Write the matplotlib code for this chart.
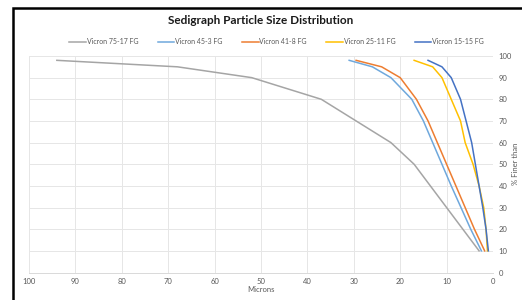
import matplotlib

matplotlib.use("Agg")
import matplotlib.pyplot as plt
from matplotlib.patches import Rectangle

plt.rcParams["font.family"] = ["Lato", "DejaVu Sans"]

# percent finer than each size
vicron_75_17_x = [94, 68, 52, 37, 22, 17, 13.5, 10, 6.5, 3]
vicron_75_17_y = [98, 95, 90, 80, 60, 50, 40, 30, 20, 10]

vicron_45_3_x = [31, 26, 22, 17.5, 15, 13, 11, 9, 6.9, 4.8, 2.5]
vicron_45_3_y = [98, 95, 90, 80, 70, 60, 50, 40, 30, 20, 10]

vicron_41_8_x = [29.5, 24, 20, 16.5, 14, 12, 10, 8, 6, 4, 1.8]
vicron_41_8_y = [98, 95, 90, 80, 70, 60, 50, 40, 30, 20, 10]

vicron_25_11_x = [17, 13, 11, 9, 7, 6, 4.3, 3, 2, 1.5, 1.2]
vicron_25_11_y = [98, 95, 90, 80, 70, 60, 50, 40, 30, 20, 10]

vicron_15_15_x = [14, 11, 9, 7, 5.8, 4.6, 3.8, 3, 2.2, 1.5, 1]
vicron_15_15_y = [98, 95, 90, 80, 70, 60, 50, 40, 30, 20, 10]

series = [
    ("Vicron 75-17 FG", vicron_75_17_x, vicron_75_17_y, "#A5A5A5"),
    ("Vicron 45-3 FG", vicron_45_3_x, vicron_45_3_y, "#6FA8DC"),
    ("Vicron 41-8 FG", vicron_41_8_x, vicron_41_8_y, "#ED7D31"),
    ("Vicron 25-11 FG", vicron_25_11_x, vicron_25_11_y, "#FFC000"),
    ("Vicron 15-15 FG", vicron_15_15_x, vicron_15_15_y, "#4472C4"),
]

x_ticks = list(range(0, 101, 10))
y_ticks = list(range(0, 101, 10))

fig = plt.figure(figsize=(5.22, 3.0), dpi=100)
ax = fig.add_axes([29 / 522, 1 - 272.5 / 300, 464 / 522, 216.5 / 300])

for label, xs, ys, color in series:
    ax.plot(xs, ys, color=color, linewidth=1.1, label=label)

ax.set_xlim(100, 0)
ax.set_ylim(0, 100)
ax.set_xticks(x_ticks)
ax.set_yticks(y_ticks)
ax.yaxis.tick_right()
ax.yaxis.set_label_position("right")
ax.tick_params(axis="both", length=0, labelsize=5.5, labelcolor="#595959", pad=4)
ax.grid(color="#E6E6E6", linewidth=0.7)
ax.set_axisbelow(True)
for side in ["top", "left", "right"]:
    ax.spines[side].set_visible(False)
ax.spines["bottom"].set_color("#D9D9D9")
ax.spines["bottom"].set_linewidth(0.7)

ax.set_xlabel("Microns", fontsize=5.5, color="#595959", labelpad=1)
ax.yaxis.set_label_coords(1 + 19 / 464, 0.5)
ax.set_ylabel("% Finer than", fontsize=5.5, color="#595959")

fig.text(0.5, 1 - 20 / 300, "Sedigraph Particle Size Distribution",
         ha="center", va="center", fontsize=8.5, fontweight="bold", color="#1a1a1a")

fig.legend(loc="center", bbox_to_anchor=(0.53, 1 - 42 / 300), ncol=5, frameon=False,
           fontsize=5, handlelength=2.4, handletextpad=0.1, columnspacing=2.8,
           labelcolor="#595959")

# outer frame of the screenshot
fig.patches.append(Rectangle((13 / 522, -0.05), 1.1, 1 - 8 / 300 + 0.05,
                             transform=fig.transFigure, fill=False,
                             edgecolor="black", linewidth=1.8))

fig.savefig("out.png", dpi=100)
